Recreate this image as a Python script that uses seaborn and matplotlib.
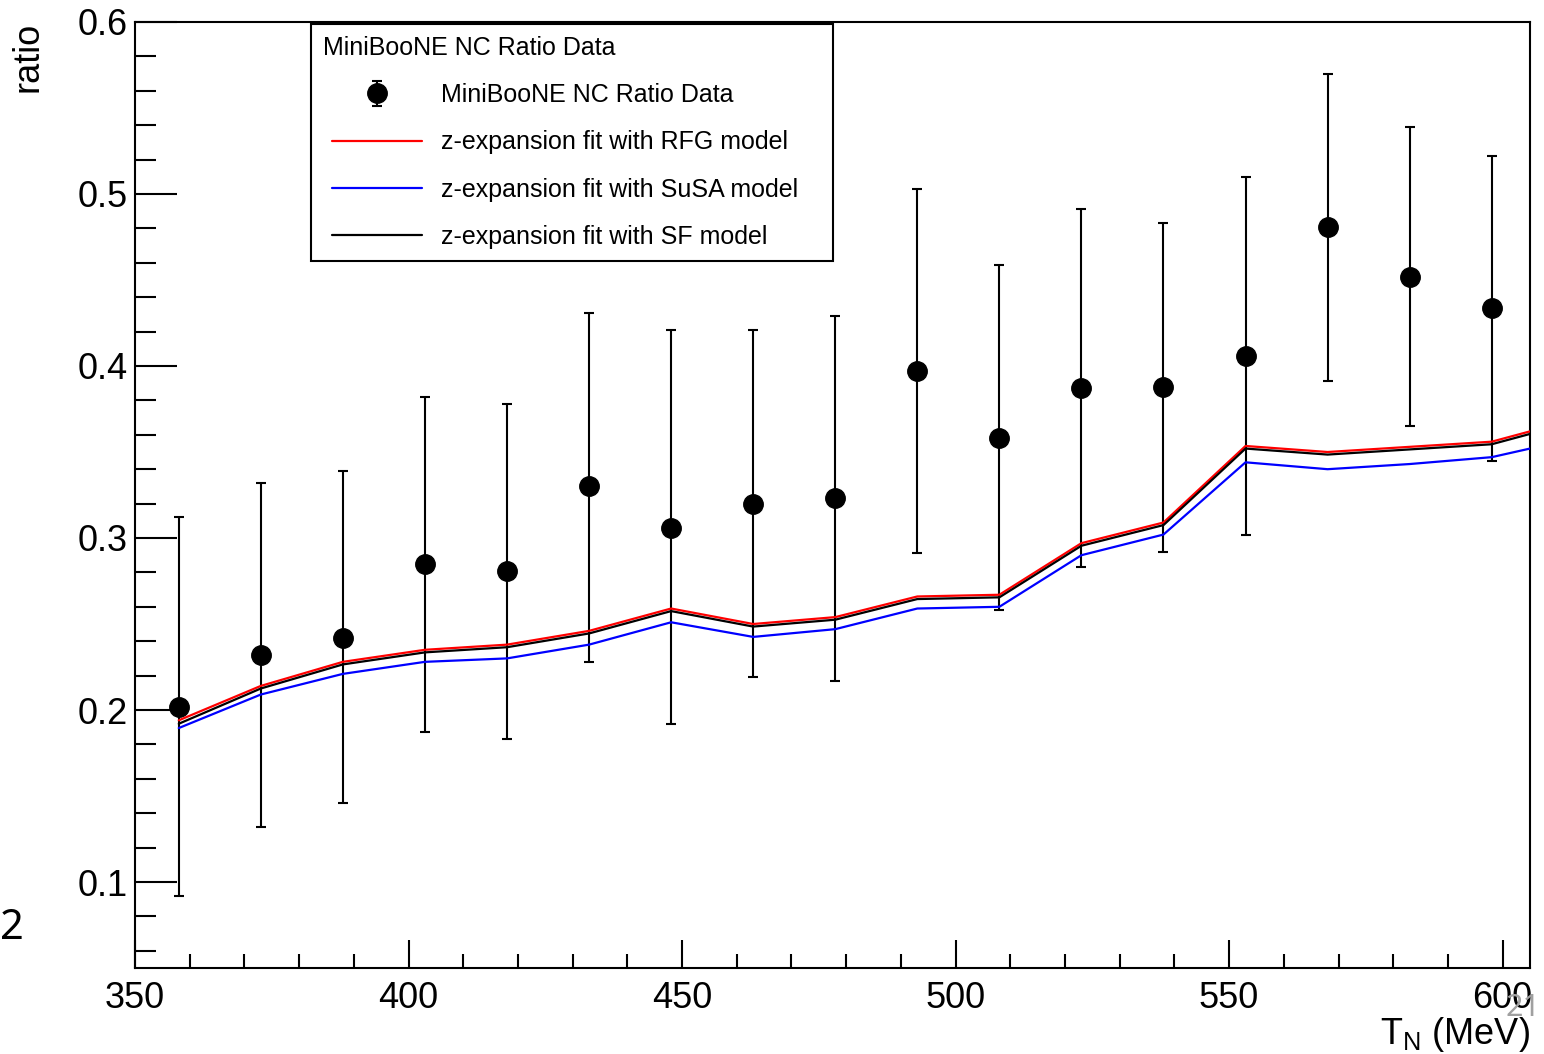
import matplotlib
matplotlib.use("Agg")
import matplotlib.pyplot as plt
import seaborn as sns
import numpy as np
from matplotlib.ticker import MultipleLocator, FormatStrFormatter
from matplotlib.legend_handler import HandlerLine2D, HandlerErrorbar

# ---------------- data ----------------
x_data = [358, 373, 388, 403, 418, 433, 448, 463, 478, 493, 508, 523, 538, 553, 568, 583, 598]
y_data = [0.202, 0.232, 0.242, 0.285, 0.281, 0.330, 0.306, 0.320, 0.323, 0.397,
          0.358, 0.387, 0.388, 0.406, 0.481, 0.452, 0.434]
y_low = [0.092, 0.132, 0.146, 0.187, 0.183, 0.228, 0.192, 0.219, 0.217, 0.291,
         0.258, 0.283, 0.292, 0.302, 0.391, 0.365, 0.345]
y_high = [0.312, 0.332, 0.339, 0.382, 0.378, 0.431, 0.421, 0.421, 0.429, 0.503,
          0.459, 0.491, 0.483, 0.510, 0.570, 0.539, 0.522]

x_fit = [358, 373, 388, 403, 418, 433, 448, 463, 478, 493, 508, 523, 538, 553, 568, 583, 598, 605]
rfg = [0.194, 0.214, 0.228, 0.235, 0.238, 0.246, 0.259, 0.250, 0.254, 0.266,
       0.267, 0.297, 0.309, 0.3535, 0.350, 0.353, 0.356, 0.362]
susa = [0.1895, 0.209, 0.221, 0.228, 0.230, 0.238, 0.251, 0.2425, 0.247, 0.259,
        0.260, 0.290, 0.302, 0.344, 0.340, 0.343, 0.347, 0.352]
sf = [0.192, 0.2125, 0.2265, 0.2335, 0.2365, 0.2445, 0.2575, 0.2485, 0.2525, 0.2645,
      0.2655, 0.2955, 0.3075, 0.352, 0.3485, 0.3515, 0.3545, 0.3605]

legend_title = "MiniBooNE NC Ratio Data"
labels = ["MiniBooNE NC Ratio Data",
          "z-expansion fit with RFG model",
          "z-expansion fit with SuSA model",
          "z-expansion fit with SF model"]

# ---------------- style ----------------
sns.set_style("white")
plt.rcParams['font.family'] = ['Liberation Sans', 'DejaVu Sans']
plt.rcParams['mathtext.fontset'] = 'custom'
plt.rcParams['mathtext.rm'] = 'Liberation Sans'
plt.rcParams['text.color'] = 'black'

fig = plt.figure(figsize=(15.44, 10.54), dpi=100)
ax = fig.add_axes([135 / 1544, 86 / 1054, 1395 / 1544, 946 / 1054])

eb = ax.errorbar(x_data, y_data,
                 yerr=[np.array(y_data) - np.array(y_low), np.array(y_high) - np.array(y_data)],
                 fmt='o', color='black', markersize=14, elinewidth=1.5, capsize=3.5,
                 capthick=1.5, zorder=3, label=labels[0])

sns.lineplot(x=x_fit, y=rfg, color='#ff0000', linewidth=1.6, ax=ax, estimator=None,
             label=labels[1], zorder=4)
sns.lineplot(x=x_fit, y=sf, color='black', linewidth=1.6, ax=ax, estimator=None,
             label=labels[3], zorder=5)
sns.lineplot(x=x_fit, y=susa, color='#0000ff', linewidth=1.6, ax=ax, estimator=None,
             label=labels[2], zorder=4)

ax.set_xlim(350, 605)
ax.set_ylim(0.05, 0.6)
ax.xaxis.set_major_locator(MultipleLocator(50))
ax.xaxis.set_minor_locator(MultipleLocator(10))
ax.yaxis.set_major_locator(MultipleLocator(0.1))
ax.yaxis.set_minor_locator(MultipleLocator(0.02))
ax.yaxis.set_major_formatter(FormatStrFormatter('%.1f'))
ax.xaxis.set_major_formatter(FormatStrFormatter('%d'))

ax.tick_params(axis='both', which='both', direction='in', width=1.5, color='black',
               labelsize=26, labelcolor='black')
ax.tick_params(axis='x', which='major', length=20, pad=9)
ax.tick_params(axis='x', which='minor', length=10)
ax.tick_params(axis='y', which='major', length=30, pad=5)
ax.tick_params(axis='y', which='minor', length=15)
ax.tick_params(top=False, right=False, left=True, bottom=True, which='both')

for s in ax.spines.values():
    s.set_color('black')
    s.set_linewidth(1.5)

ax.set_xlabel("")
ax.set_ylabel("")

# legend
h, l = ax.get_legend_handles_labels()
hd = dict(zip(l, h))
handles = [eb, hd[labels[1]], hd[labels[2]], hd[labels[3]]]
xp = 0.36
leg = ax.legend(handles, labels, title=legend_title, loc='upper left',
                bbox_to_anchor=(0.126, 0.749, 0.374, 0.249), mode='expand',
                fontsize=18, title_fontsize=18, frameon=True, fancybox=False,
                edgecolor='black', framealpha=1, borderpad=0.48, labelspacing=0.93,
                handlelength=3.6 + xp, handletextpad=0.75, alignment='left',
                borderaxespad=0,
                handler_map={type(eb): HandlerErrorbar(xpad=xp),
                             type(hd[labels[1]]): HandlerLine2D(xpad=xp)})
leg.get_frame().set_linewidth(1.5)

# axis titles
fig.text(28 / 1544, 1 - 22 / 1054, "ratio", rotation=90, ha='center', va='top', fontsize=26)
ax.text(1.0, (968 - 1044) / 946, r"T$_\mathregular{N}$ (MeV)", transform=ax.transAxes,
        ha='right', va='baseline', fontsize=26)

# stray slide text
fig.text(12 / 1544, 1 - 928 / 1054, "2", ha='center', va='center', fontsize=30,
         family=['Noto Sans', 'DejaVu Sans'])
fig.text(1523 / 1544, 1 - 1008 / 1054, "21", ha='center', va='center', fontsize=22,
         color='#a0a0a0', family=['Noto Sans', 'DejaVu Sans'])

fig.savefig("out.png", dpi=100)
